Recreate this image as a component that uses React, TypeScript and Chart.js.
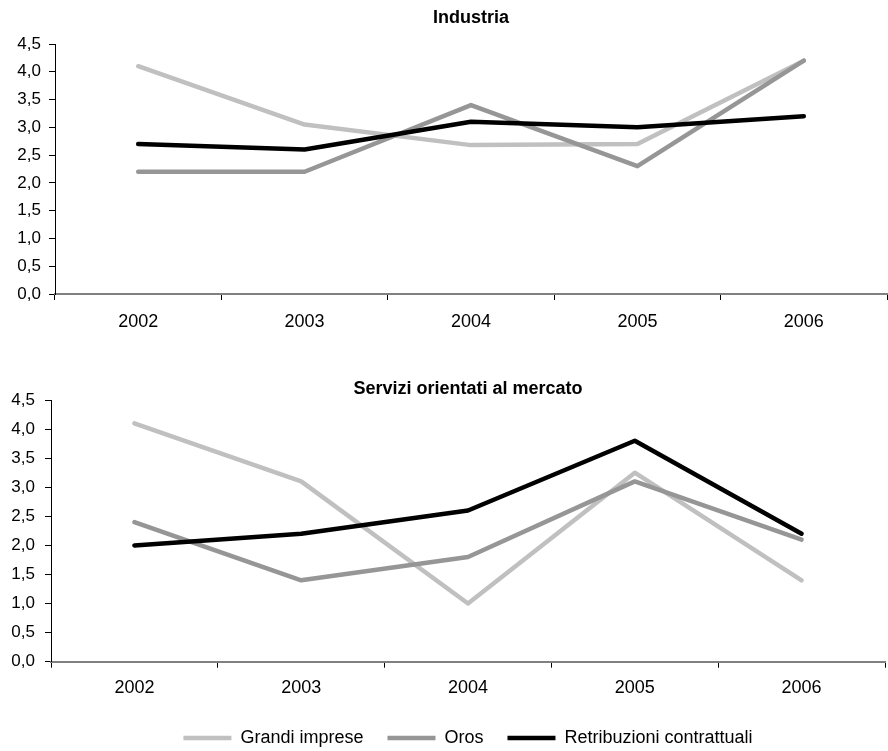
import React, { useEffect, useRef } from 'react';
import { Chart, registerables } from 'chart.js';

Chart.register(...registerables);

const years = ['2002', '2003', '2004', '2005', '2006'];
const yTickLabels = ['0,0', '0,5', '1,0', '1,5', '2,0', '2,5', '3,0', '3,5', '4,0', '4,5'];
const seriesNames = ['Grandi imprese', 'Oros', 'Retribuzioni contrattuali'];

const industriaGrandi = [4.1, 3.05, 2.68, 2.7, 4.2];
const industriaOros = [2.2, 2.2, 3.4, 2.3, 4.2];
const industriaRetrib = [2.7, 2.6, 3.1, 3.0, 3.2];

const serviziGrandi = [4.1, 3.1, 1.0, 3.25, 1.4];
const serviziOros = [2.4, 1.4, 1.8, 3.1, 2.1];
const serviziRetrib = [2.0, 2.2, 2.6, 3.8, 2.2];

const FONT = "'Liberation Sans', Arial, sans-serif";
const colors = ['#c0c0c0', '#969696', '#000000'];

function makeDatasets(values: number[][]) {
  return values.map((data, i) => ({
    label: seriesNames[i],
    data,
    borderColor: colors[i],
    backgroundColor: colors[i],
    borderWidth: 4.5,
    borderCapStyle: 'round' as const,
    borderJoinStyle: 'round' as const,
    pointRadius: 0,
    pointHoverRadius: 0,
    tension: 0,
    fill: false,
    order: 3 - i,
  }));
}

interface Opts {
  title: string;
  titlePadTop: number;
  titlePadBottom: number;
  yWidth: number;
  xHeight: number;
  padRight: number;
  yTickPad: number;
  xTickPad: number;
  showLegend: boolean;
}

function makeConfig(values: number[][], o: Opts): any {
  return {
    type: 'line',
    data: { labels: years, datasets: makeDatasets(values) },
    options: {
      responsive: false,
      animation: false,
      devicePixelRatio: 1,
      layout: { padding: { left: 0, right: o.padRight, top: 0, bottom: 0 } },
      plugins: {
        tooltip: { enabled: false },
        title: {
          display: true,
          text: o.title,
          fullSize: false,
          color: '#000',
          font: { family: FONT, size: 18, weight: 'bold' },
          padding: { top: o.titlePadTop, bottom: o.titlePadBottom },
        },
        legend: {
          display: o.showLegend,
          position: 'bottom',
          fullSize: false,
          labels: {
            usePointStyle: true,
            pointStyle: 'line',
            pointStyleWidth: 48,
            padding: 24,
            color: '#000',
            font: { family: FONT, size: 18 },
            sort: (a: any, b: any) => a.datasetIndex - b.datasetIndex,
          },
        },
      },
      scales: {
        x: {
          type: 'category',
          offset: true,
          grid: {
            offset: true,
            drawOnChartArea: false,
            drawTicks: true,
            tickLength: 6,
            color: '#000',
            lineWidth: 1,
          },
          border: { display: true, color: '#808080', width: 2 },
          ticks: {
            color: '#000',
            font: { family: FONT, size: 18 },
            padding: o.xTickPad,
            maxRotation: 0,
            autoSkip: false,
          },
          afterFit: (s: any) => {
            s.height = o.xHeight;
          },
        },
        y: {
          min: 0,
          max: 4.5,
          ticks: {
            stepSize: 0.5,
            color: '#000',
            font: { family: FONT, size: 17 },
            padding: o.yTickPad,
            callback: (v: any) => yTickLabels[Math.round(Number(v) / 0.5)],
          },
          grid: {
            drawOnChartArea: false,
            drawTicks: true,
            tickLength: 6,
            color: '#000',
            lineWidth: 1,
          },
          border: { display: true, color: '#000', width: 1 },
          afterFit: (s: any) => {
            s.width = o.yWidth;
          },
        },
      },
    },
  };
}

function LineChart({ values, opts, width, height, top }: { values: number[][]; opts: Opts; width: number; height: number; top: number }) {
  const ref = useRef<HTMLCanvasElement | null>(null);
  useEffect(() => {
    if (!ref.current) return;
    const chart = new Chart(ref.current, makeConfig(values, opts));
    return () => chart.destroy();
  }, []);
  return (
    <canvas
      ref={ref}
      width={width}
      height={height}
      style={{ position: 'absolute', left: 0, top, width, height, display: 'block' }}
    />
  );
}

export default function App() {
  return (
    <div
      style={{
        position: 'fixed',
        left: 0,
        top: 0,
        width: 888,
        height: 751,
        overflow: 'hidden',
        background: '#fff',
      }}
    >
      <LineChart
        values={[industriaGrandi, industriaOros, industriaRetrib]}
        width={888}
        height={345}
        top={0}
        opts={{
          title: 'Industria',
          titlePadTop: 7.2,
          titlePadBottom: 15.2,
          yWidth: 55,
          xHeight: 51,
          padRight: 1,
          yTickPad: 8,
          xTickPad: 10.9,
          showLegend: false,
        }}
      />
      <LineChart
        values={[serviziGrandi, serviziOros, serviziRetrib]}
        width={888}
        height={412}
        top={345}
        opts={{
          title: 'Servizi orientati al mercato',
          titlePadTop: 33.2,
          titlePadBottom: 0.2,
          yWidth: 51,
          xHeight: 43.3,
          padRight: 3,
          yTickPad: 10,
          xTickPad: 10,
          showLegend: true,
        }}
      />
    </div>
  );
}
